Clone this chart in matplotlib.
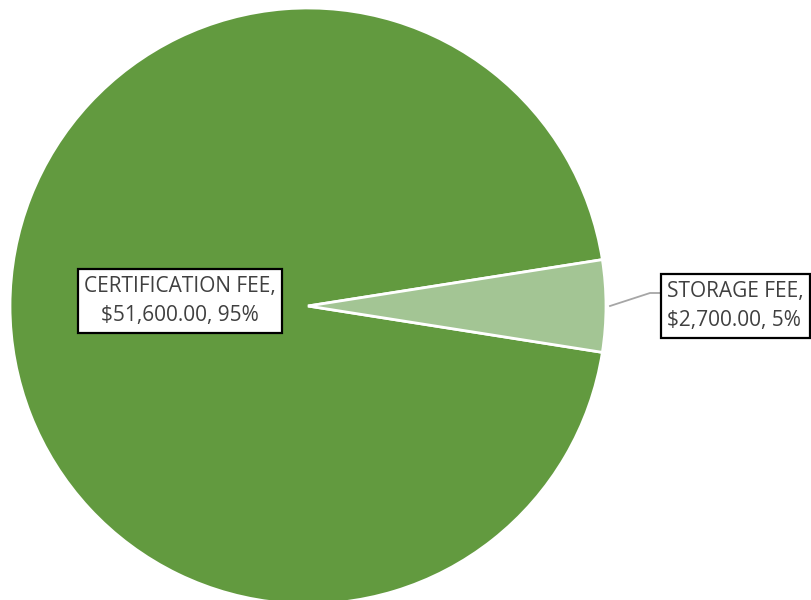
import matplotlib.pyplot as plt

# Pie data
labels = ['CERTIFICATION FEE', 'STORAGE FEE']
values = [51600, 2700]
colors = ['#629A3F', '#A3C594']

total = sum(values)
pcts = [v / total * 100 for v in values]

fig = plt.figure(figsize=(8.12, 6.0), dpi=100)
ax = fig.add_axes([0, 0, 1, 1])

# storage slice centred on the right (0 degrees)
start = values[1] / total * 360 / 2
wedges, _ = ax.pie(values, colors=colors, startangle=start, counterclock=True,
                   center=(308, 294), radius=298, frame=True,
                   wedgeprops=dict(edgecolor='white', linewidth=2))
ax.set_xlim(0, 812)
ax.set_ylim(0, 600)
ax.set_aspect('equal')
ax.axis('off')

box = dict(boxstyle='square,pad=0.3', facecolor='white', edgecolor='black', linewidth=1.6)
font = dict(family=['Open Sans', 'DejaVu Sans'], fontsize=15, color='#404040')

ax.text(180, 299, f'{labels[0]},\n${values[0]:,.2f}, {pcts[0]:.0f}%',
        ha='center', va='center', bbox=box, linespacing=1.55, **font)

ax.plot([610, 650, 660], [294, 307, 307], color='#A6A6A6', linewidth=1.3)
ax.text(667, 294, f'{labels[1]},\n${values[1]:,.2f}, {pcts[1]:.0f}%',
        ha='left', va='center', bbox=box, linespacing=1.55, clip_on=False, **font)

plt.savefig('out.png', dpi=100)
